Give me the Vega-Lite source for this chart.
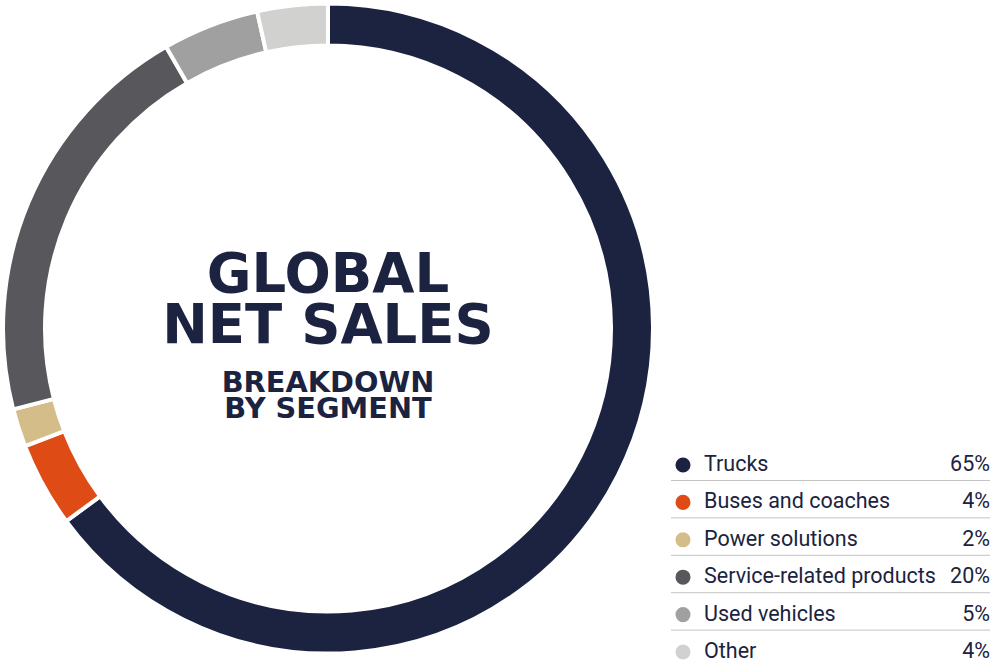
{
  "$schema": "https://vega.github.io/schema/vega-lite/v6.json",
  "autosize": "none",
  "padding": 0,
  "width": 991,
  "height": 666,
  "background": "white",
  "config": {"view": {"stroke": null}, "font": "Roboto"},
  "datasets": {
    "segments": [
      {"segment": "Trucks", "share": 64.9, "pct": "65%", "idx": 1},
      {"segment": "Buses and coaches", "share": 4.2, "pct": "4%", "idx": 2},
      {"segment": "Power solutions", "share": 1.9, "pct": "2%", "idx": 3},
      {"segment": "Service-related products", "share": 20.7, "pct": "20%", "idx": 4},
      {"segment": "Used vehicles", "share": 4.8, "pct": "5%", "idx": 5},
      {"segment": "Other", "share": 3.5, "pct": "4%", "idx": 6}
    ],
    "heading": [
      {"line": "GLOBAL", "idx": 1},
      {"line": "NET SALES", "idx": 2},
      {"line": "BREAKDOWN", "idx": 3},
      {"line": "BY SEGMENT", "idx": 4}
    ]
  },
  "layer": [
    {
      "encoding": {
        "x": {"datum": 328, "type": "quantitative", "scale": {"domain": [0, 991], "range": [0, 991], "nice": false, "zero": false}, "axis": null},
        "y": {"datum": 328.5, "type": "quantitative", "scale": {"domain": [0, 666], "range": [0, 666], "nice": false, "zero": false}, "axis": null}
      },
      "layer": [
        {
          "data": {"name": "segments"},
          "mark": {"type": "arc", "outerRadius": 325, "innerRadius": 283, "stroke": "white", "strokeWidth": 4},
          "encoding": {
            "theta": {"field": "share", "type": "quantitative", "stack": true},
            "order": {"field": "idx", "type": "quantitative"},
            "color": {
              "field": "segment", "type": "nominal", "legend": null,
              "scale": {
                "domain": ["Trucks", "Buses and coaches", "Power solutions", "Service-related products", "Used vehicles", "Other"],
                "range": ["#1b2340", "#de4b14", "#d5bd8a", "#58575c", "#a0a0a0", "#d1d1cf"]
              }
            }
          }
        },
        {
          "data": {"name": "heading"},
          "transform": [{"filter": "datum.idx == 1"}],
          "mark": {"type": "text", "font": "DejaVu Sans", "fontWeight": "bold", "fontSize": 54.5, "baseline": "alphabetic", "align": "center", "dy": -36.5, "color": "#1b2340"},
          "encoding": {"text": {"field": "line"}}
        },
        {
          "data": {"name": "heading"},
          "transform": [{"filter": "datum.idx == 2"}],
          "mark": {"type": "text", "font": "DejaVu Sans", "fontWeight": "bold", "fontSize": 54.5, "baseline": "alphabetic", "align": "center", "dy": 14.5, "color": "#1b2340"},
          "encoding": {"text": {"field": "line"}}
        },
        {
          "data": {"name": "heading"},
          "transform": [{"filter": "datum.idx == 3"}],
          "mark": {"type": "text", "font": "DejaVu Sans", "fontWeight": "bold", "fontSize": 28.8, "baseline": "alphabetic", "align": "center", "dy": 63.5, "color": "#1b2340"},
          "encoding": {"text": {"field": "line"}}
        },
        {
          "data": {"name": "heading"},
          "transform": [{"filter": "datum.idx == 4"}],
          "mark": {"type": "text", "font": "DejaVu Sans", "fontWeight": "bold", "fontSize": 28.8, "baseline": "alphabetic", "align": "center", "dy": 89.5, "color": "#1b2340"},
          "encoding": {"text": {"field": "line"}}
        }
      ]
    },
    {
      "data": {"name": "segments"},
      "encoding": {
        "y": {
          "field": "segment", "type": "nominal", "axis": null,
          "scale": {
            "type": "point",
            "padding": 0,
            "domain": ["Trucks", "Buses and coaches", "Power solutions", "Service-related products", "Used vehicles", "Other"],
            "range": [465, 652]
          }
        }
      },
      "layer": [
        {
          "transform": [{"filter": "datum.idx < 6"}],
          "mark": {"type": "rule", "color": "#c4c4c4", "strokeWidth": 1, "yOffset": 15.5},
          "encoding": {
            "x": {"datum": 671, "type": "quantitative"},
            "x2": {"datum": 990}
          }
        },
        {
          "mark": {"type": "circle", "size": 227, "opacity": 1},
          "encoding": {
            "x": {"datum": 683, "type": "quantitative"},
            "color": {
              "field": "segment", "type": "nominal", "legend": null,
              "scale": {
                "domain": ["Trucks", "Buses and coaches", "Power solutions", "Service-related products", "Used vehicles", "Other"],
                "range": ["#1b2340", "#de4b14", "#d5bd8a", "#58575c", "#a0a0a0", "#d1d1cf"]
              }
            }
          }
        },
        {
          "mark": {"type": "text", "align": "left", "baseline": "middle", "fontSize": 21.5, "color": "#1b2340"},
          "encoding": {
            "x": {"datum": 704, "type": "quantitative"},
            "text": {"field": "segment"}
          }
        },
        {
          "mark": {"type": "text", "align": "right", "baseline": "middle", "fontSize": 21.5, "color": "#1b2340"},
          "encoding": {
            "x": {"datum": 990, "type": "quantitative"},
            "text": {"field": "pct"}
          }
        }
      ]
    }
  ],
  "resolve": {"scale": {"y": "independent"}}
}
